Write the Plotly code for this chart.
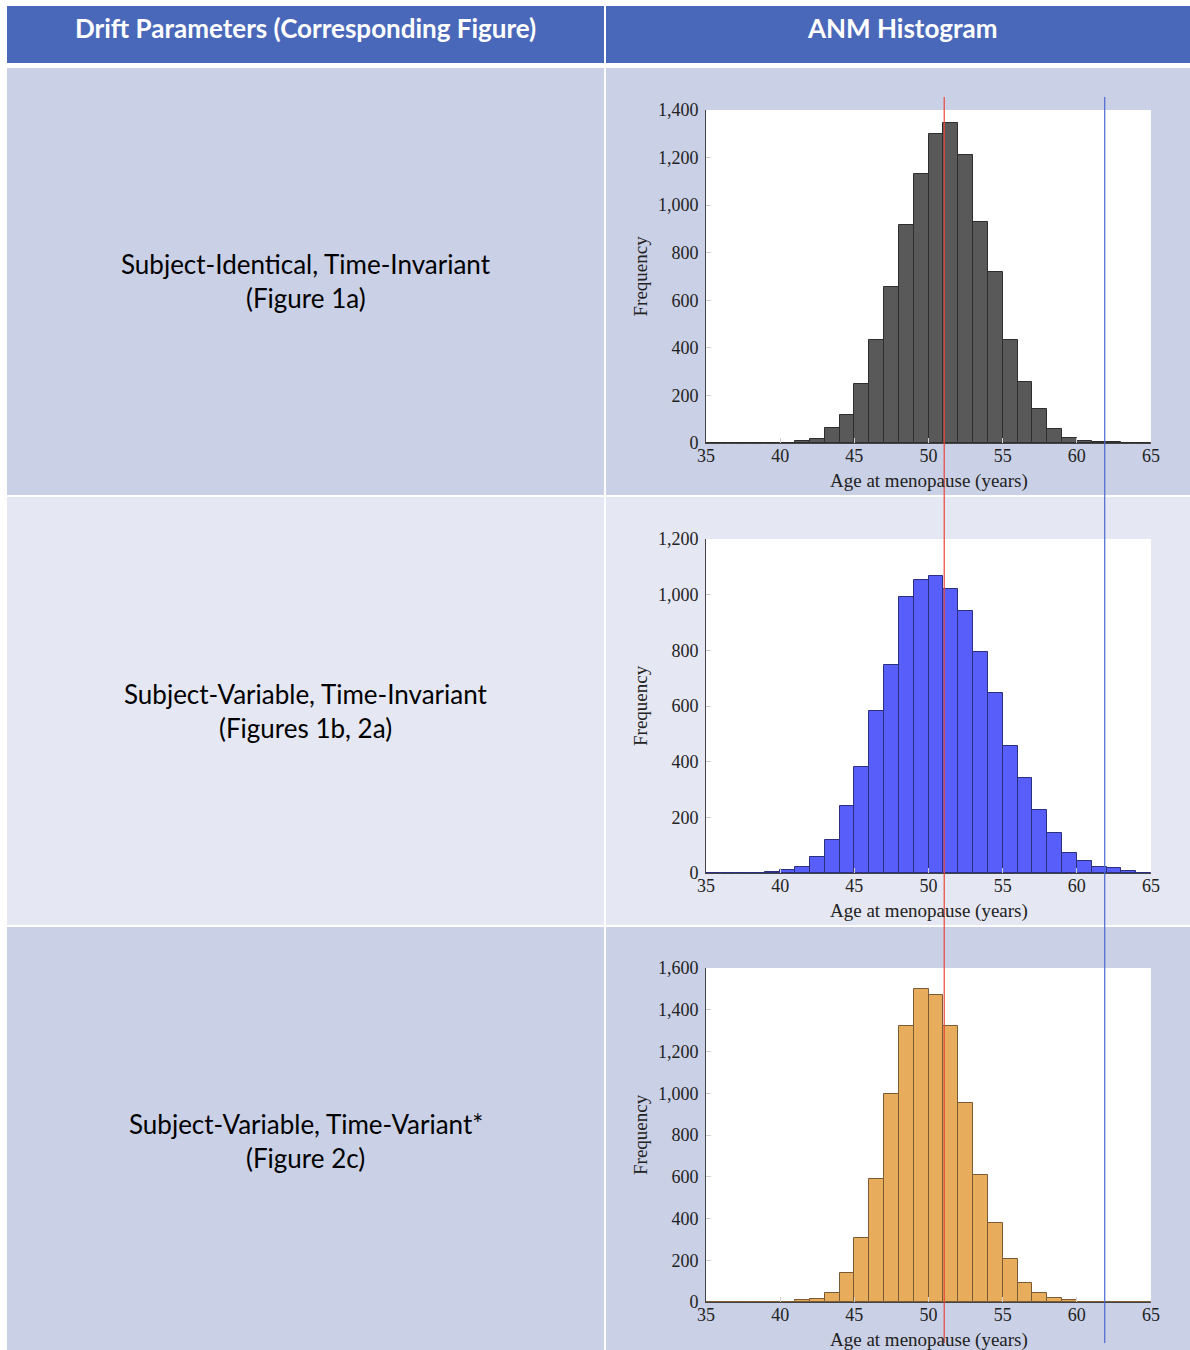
import plotly.graph_objects as go

W, H = 1190, 1350

# ---------------- data ----------------
bin_left = [35, 36, 37, 38, 39, 40, 41, 42, 43, 44, 45, 46, 47, 48, 49,
            50, 51, 52, 53, 54, 55, 56, 57, 58, 59, 60, 61, 62, 63, 64]

counts_identical = [0, 0, 0, 0, 2, 1, 7, 15, 63, 116, 246, 431, 654, 917, 1131,
                    1299, 1344, 1212, 930, 720, 431, 256, 143, 57, 22, 7, 4, 3, 1, 2]
counts_variable = [0, 0, 0, 1, 2, 11, 20, 59, 120, 240, 380, 581, 746, 993, 1051,
                   1067, 1019, 941, 795, 645, 456, 342, 227, 144, 73, 43, 23, 19, 7, 0]
counts_timevar = [0, 0, 0, 0, 0, 2, 8, 14, 43, 139, 308, 588, 995, 1321, 1501,
                  1469, 1321, 952, 607, 379, 205, 91, 42, 19, 10, 2, 0, 0, 0, 0]

row_titles = ["Subject-Identical, Time-Invariant", "Subject-Variable, Time-Invariant",
              "Subject-Variable, Time-Variant*"]
row_subtitles = ["(Figure 1a)", "(Figures 1b, 2a)", "(Figure 2c)"]
header_labels = ["Drift Parameters (Corresponding Figure)", "ANM Histogram"]
y_max = [1400, 1200, 1600]
x_ticks = [35, 40, 45, 50, 55, 60, 65]
red_line_x = 51.06
blue_line_x = 61.88
x_title = "Age at menopause (years)"
y_title = "Frequency"

fill_colors = ["#595959", "#585ef9", "#e8ad5c"]
edge_colors = ["#2e2e2e", "#2c2f80", "#7a5b34"]


def px(x):
    return x / W


def py(y):
    return 1 - y / H


# plot area pixel positions
plot_x = (706, 1151)
plot_y = [(110, 443), (539, 873), (968, 1302)]

fig = go.Figure()

all_counts = [counts_identical, counts_variable, counts_timevar]
for i, cnts in enumerate(all_counts):
    xa = "x" if i == 0 else f"x{i+1}"
    ya = "y" if i == 0 else f"y{i+1}"
    fig.add_trace(go.Bar(
        x=[b + 0.5 for b in bin_left], y=cnts, width=1,
        marker=dict(color=fill_colors[i], line=dict(color=edge_colors[i], width=1)),
        xaxis=xa, yaxis=ya, showlegend=False, hoverinfo="skip"))

shapes = []
# table cells
header_col = "#4a68b9"
row_cols = ["#cad0e6", "#e5e7f3", "#cad0e6"]
cols = [(7, 604), (606, 1190)]
for (x0, x1) in cols:
    shapes.append(dict(type="rect", xref="paper", yref="paper", x0=px(x0), x1=px(x1),
                       y0=py(63), y1=py(6), fillcolor=header_col, line=dict(width=0),
                       layer="below"))
    for (y0, y1), c in zip([(68, 495), (497, 925), (927, 1350)], row_cols):
        shapes.append(dict(type="rect", xref="paper", yref="paper", x0=px(x0), x1=px(x1),
                           y0=py(y1), y1=py(y0), fillcolor=c, line=dict(width=0),
                           layer="below"))
# white plot areas
for (y0, y1) in plot_y:
    shapes.append(dict(type="rect", xref="paper", yref="paper", x0=px(plot_x[0]), x1=px(plot_x[1]),
                       y0=py(y1), y1=py(y0), fillcolor="white", line=dict(width=0),
                       layer="below"))
# vertical reference lines
shapes.append(dict(type="line", xref="x", yref="paper", x0=red_line_x, x1=red_line_x,
                   y0=py(1343), y1=py(97), line=dict(color="#e8463c", width=1.2), layer="above"))
shapes.append(dict(type="line", xref="x", yref="paper", x0=blue_line_x, x1=blue_line_x,
                   y0=py(1343), y1=py(97), line=dict(color="#4a68d0", width=1.2), layer="above"))

annotations = []
sans = "Lato"
serif = "Liberation Serif"
annotations.append(dict(text=f"<b>{header_labels[0]}</b>", x=px(305.5), y=py(28), xref="paper",
                        yref="paper", showarrow=False, xanchor="center", yanchor="middle",
                        font=dict(family=sans, size=26, color="white")))
annotations.append(dict(text=f"<b>{header_labels[1]}</b>", x=px(902), y=py(28), xref="paper",
                        yref="paper", showarrow=False, xanchor="center", yanchor="middle",
                        font=dict(family=sans, size=26, color="white")))
row_text_y = [(264, 298), (694, 728), (1124, 1158)]
for i in range(3):
    annotations.append(dict(text=row_titles[i], x=px(305.5), y=py(row_text_y[i][0]), xref="paper",
                            yref="paper", showarrow=False, xanchor="center", yanchor="middle",
                            font=dict(family=sans, size=26, color="black")))
    annotations.append(dict(text=row_subtitles[i], x=px(305.5), y=py(row_text_y[i][1]), xref="paper",
                            yref="paper", showarrow=False, xanchor="center", yanchor="middle",
                            font=dict(family=sans, size=26, color="black")))
    y0, y1 = plot_y[i]
    annotations.append(dict(text=x_title, x=px((plot_x[0] + plot_x[1]) / 2), y=py(y1 + 38),
                            xref="paper", yref="paper", showarrow=False, xanchor="center",
                            yanchor="middle", font=dict(family=serif, size=19, color="#222")))
    annotations.append(dict(text=y_title, x=px(640), y=py((y0 + y1) / 2), textangle=-90,
                            xref="paper", yref="paper", showarrow=False, xanchor="center",
                            yanchor="middle", font=dict(family=serif, size=19, color="#222")))

layout = dict(
    width=W, height=H, margin=dict(l=0, r=0, t=0, b=0, pad=0, autoexpand=False),
    paper_bgcolor="white", plot_bgcolor="rgba(0,0,0,0)",
    bargap=0, shapes=shapes, annotations=annotations, showlegend=False,
)
for i in range(3):
    xs = "xaxis" if i == 0 else f"xaxis{i+1}"
    ys = "yaxis" if i == 0 else f"yaxis{i+1}"
    ya = "y" if i == 0 else f"y{i+1}"
    xa = "x" if i == 0 else f"x{i+1}"
    y0, y1 = plot_y[i]
    layout[xs] = dict(domain=[px(plot_x[0]), px(plot_x[1])], range=[35, 65], anchor=ya,
                      tickvals=x_ticks, showgrid=False, zeroline=False,
                      showline=True, linecolor="#444", linewidth=1, automargin=False,
                      ticks="inside", ticklen=5, tickcolor="#d0d0d0", ticklabelstandoff=-4,
                      tickfont=dict(family=serif, size=18, color="#222"), fixedrange=True)
    layout[ys] = dict(domain=[py(y1), py(y0)], range=[0, y_max[i]], anchor=xa,
                      dtick=200, tickformat=",", showgrid=False, zeroline=False,
                      showline=True, linecolor="#444", linewidth=1, automargin=False,
                      ticks="inside", ticklen=5, tickcolor="#d0d0d0", ticklabelstandoff=3,
                      tickfont=dict(family=serif, size=18, color="#222"), fixedrange=True)

fig.update_layout(**layout)
fig.write_html("out.html", config={"responsive": False, "displayModeBar": False},
               post_script="document.body.style.margin='0';document.body.style.overflow='hidden';")
